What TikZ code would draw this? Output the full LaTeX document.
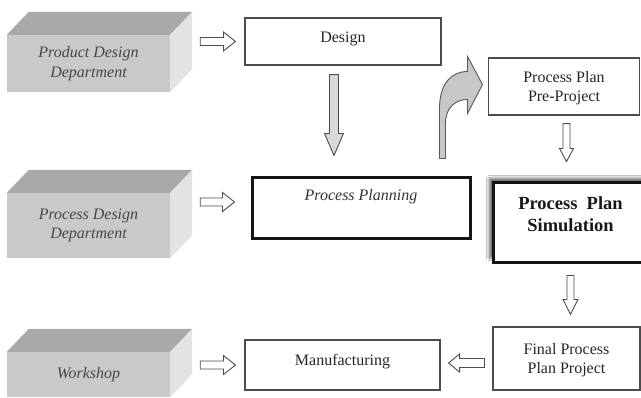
\documentclass[tikz,border=0pt]{standalone}
\usepackage{fontspec}
\setmainfont{Liberation Serif}
\usetikzlibrary{calc,shadows.blur}
\definecolor{topgray}{HTML}{A9A9A9}
\definecolor{frontgray}{HTML}{C9C9C9}
\definecolor{sidegray}{HTML}{E3E3E3}
\definecolor{deptgray}{HTML}{474747}
\tikzset{
  bgs/.store in=\bgs, bge/.store in=\bge, bsw/.store in=\bsw,
  bhw/.store in=\bhw, bhl/.store in=\bhl,
  bgs=0pt, bge=0pt, bsw=4pt, bhw=9pt, bhl=12pt,
  blk/.style={draw=black!70, line width=0.9pt, fill=white, line join=miter},
  dept/.style={fill=frontgray, inner sep=0pt, minimum width=163pt,
    font=\fontsize{16}{19.5}\selectfont\itshape, text=deptgray, align=center},
  box/.style={draw=black!70, line width=1.1pt, fill=white, inner sep=0pt,
    font=\fontsize{16}{19.5}\selectfont, text=black!85, align=center},
  thickbox/.style={draw=black!92, line width=3pt, fill=white, inner sep=0pt, align=center},
  curvy/.style={draw=black!65, line width=0.9pt, fill=black!22, line join=miter}
}
\newcommand\blkarr[3][]{%
  \begin{scope}[#1]
  \path ($(#2)!\bgs!(#3)$) coordinate (bA) ($(#3)!\bge!(#2)$) coordinate (bB);
  \path ($(bB)!\bhl!(bA)$) coordinate (bH);
  \draw[blk] ($(bA)!\bsw!90:(bB)$) -- ($(bH)!\bsw!90:(bB)$) -- ($(bH)!\bhw!90:(bB)$)
     -- (bB) -- ($(bH)!\bhw!-90:(bB)$) -- ($(bH)!\bsw!-90:(bB)$)
     -- ($(bA)!\bsw!-90:(bB)$) -- cycle;
  \end{scope}}
\newcommand\deptfaces[1]{%
  \fill[topgray] (#1.north west) -- ++(22,-23) -- ([shift={(22,-23)}]#1.north east) -- (#1.north east) -- cycle;
  \fill[sidegray] (#1.north east) -- ++(22,-23) -- ([shift={(22,-23)}]#1.south east) -- (#1.south east) -- cycle;}
\begin{document}
\begin{tikzpicture}[x=1pt,y=-1pt]
\fill[white] (0,0) rectangle (641,397);
\useasboundingbox (0,0) rectangle (641,397);

% departments
\node[dept, minimum height=57pt] (d1) at (88.5,63.5) {Product Design\\Department};
\deptfaces{d1}
\node[dept, minimum height=65pt] (d2) at (88.5,225.5) {Process Design\\Department};
\deptfaces{d2}
\node[dept, minimum height=45pt] (d3) at (88.5,374.5) {Workshop};
\deptfaces{d3}

% boxes
\node[box, minimum width=196pt, minimum height=47pt, text depth=9pt] (des) at (343,41.5) {Design};
\node[box, minimum width=151pt, minimum height=57pt, text depth=0pt] (ppp) at (564,86.5) {Process Plan\\Pre-Project};
\node[thickbox, minimum width=218pt, minimum height=61pt, text depth=25pt,
      font=\fontsize{16}{19.5}\selectfont\itshape, text=black!80] (pp) at (361,207.5) {Process Planning};
\node[thickbox, minimum width=155pt, minimum height=80pt, text depth=16pt,
      font=\fontsize{18.5}{22}\selectfont\bfseries, text=black!90,
      blur shadow={shadow xshift=-4pt, shadow yshift=4pt, shadow blur radius=2.5pt, shadow opacity=55}]
      (sim) at (570.5,222) {Process\ \ Plan\\Simulation};
\node[box, minimum width=147pt, minimum height=63pt, text depth=0pt] (fin) at (566.5,358.5) {Final Process\\Plan Project};
\node[box, minimum width=195pt, minimum height=50pt, text depth=10pt] (man) at (342.5,365) {Manufacturing};

% block arrows
\coordinate (a2e) at ([yshift=5.5pt]pp.west);
\coordinate (a4s) at ([xshift=-9pt]des.south);
\coordinate (a5s) at ([xshift=2.5pt]ppp.south);
\coordinate (a7e) at ([yshift=2pt]man.east);
\blkarr[bgs=30pt,bge=9pt,bsw=4pt,bhw=9.5pt,bhl=12pt]{d1.east |- des.west}{des.west}
\blkarr[bgs=30pt,bge=16pt,bsw=4pt,bhw=9.5pt,bhl=12pt]{d2.east |- a2e}{a2e}
\blkarr[bgs=30pt,bge=9pt,bsw=4pt,bhw=9.5pt,bhl=12pt]{d3.east |- man.west}{man.west}
\blkarr[bgs=9pt,bge=20pt,bsw=4.5pt,bhw=9.5pt,bhl=22pt,blk/.append style={fill=black!15}]{a4s}{a4s |- pp.north}
\blkarr[bgs=8pt,bge=19pt,bsw=3.5pt,bhw=7pt,bhl=13pt]{a5s}{a5s |- sim.north}
\blkarr[bgs=12pt,bge=12pt,bsw=3.5pt,bhw=7.5pt,bhl=15pt]{sim.south}{sim.south |- fin.north}
\blkarr[bgs=8pt,bge=8pt,bsw=4.5pt,bhw=9pt,bhl=11pt]{fin.west |- a7e}{a7e}

% curved arrow from Process Planning to Pre-Project
\begin{scope}[shift={(pp.north east)}]
\draw[curvy] (-32,-17) -- (-32,-67) .. controls (-32,-92) and (-20,-104) .. (-4,-104)
  -- (-4,-119) -- (11,-91) -- (-4,-62) -- (-4,-76)
  .. controls (-15,-76) and (-26,-69) .. (-26,-52) -- (-26,-17) -- cycle;
\end{scope}
\end{tikzpicture}
\end{document}
